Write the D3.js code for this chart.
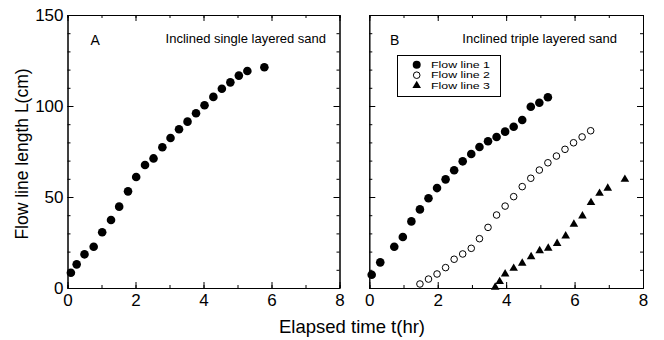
<!DOCTYPE html>
<html>
<head>
<meta charset="utf-8">
<script src="https://cdn.jsdelivr.net/npm/d3@7"></script>
<style>
  body { margin: 0; background: #fff; }
  svg { font-family: "Liberation Sans", Arial, sans-serif; }
</style>
</head>
<body>
<div class="chart"></div>
<script>
// panel A: inclined single layered sand
const timeA = [0.1, 0.27, 0.5, 0.77, 1.02, 1.28, 1.52, 1.78, 2.02, 2.28, 2.53, 2.79, 3.03, 3.28, 3.53, 3.78, 4.03, 4.29, 4.54, 4.79, 5.04, 5.29, 5.79];
const lenA = [8.4, 13, 18.5, 22.7, 30.6, 37.4, 44.7, 53.1, 61, 67.6, 71.2, 77.3, 82.4, 87.2, 91.4, 96, 100.4, 105, 109.5, 113, 116.7, 119.2, 121.3];

// panel B: inclined triple layered sand
const timeB1 = [0.07, 0.32, 0.73, 0.98, 1.23, 1.48, 1.73, 1.98, 2.23, 2.48, 2.73, 2.98, 3.22, 3.47, 3.72, 3.97, 4.22, 4.47, 4.72, 4.97, 5.22];
const lenB1 = [7.3, 14.1, 22.7, 28, 36.6, 43.2, 49.3, 54.9, 59.7, 64.7, 69.6, 73.6, 77.5, 80.6, 83, 85.9, 88.6, 92.3, 99.6, 101.8, 104.8];
const timeB2 = [1.48, 1.73, 1.98, 2.23, 2.48, 2.73, 2.98, 3.22, 3.47, 3.72, 3.97, 4.22, 4.47, 4.72, 4.97, 5.22, 5.47, 5.72, 5.97, 6.22, 6.47];
const lenB2 = [2.2, 4.9, 7.7, 11.2, 15.8, 18.7, 21.8, 27.1, 33.3, 40.1, 45, 50.2, 55.7, 60.3, 64.8, 68.8, 72.5, 76.2, 79.8, 83, 86.4];
const timeB3 = [3.68, 3.81, 3.97, 4.22, 4.47, 4.73, 4.98, 5.23, 5.49, 5.74, 5.98, 6.23, 6.48, 6.73, 6.97, 7.47];
const lenB3 = [0.4, 3.5, 7.7, 10.8, 13.6, 17.2, 20.5, 21.8, 24.5, 28.6, 35, 39.6, 46.9, 52, 54.8, 59.7];

const xTicks = [0, 2, 4, 6, 8];
const xMinor = [0, 1, 2, 3, 4, 5, 6, 7, 8];
const yTicks = [0, 50, 100, 150];
const yMinor = d3.range(0, 151, 10);
const seriesNames = ['Flow line 1', 'Flow line 2', 'Flow line 3'];

const width = 664, height = 340;
const plotTop = 15, plotBottom = 288;

const svg = d3.select('.chart').append('svg')
  .attr('width', width)
  .attr('height', height);

const y = d3.scaleLinear([0, 150], [plotBottom, plotTop]);

function drawPanel(x0, x1, showYLabels) {
  const x = d3.scaleLinear([0, 8], [x0, x1]);
  const g = svg.append('g');

  // minor ticks first, majors over them
  g.append('g').attr('transform', `translate(0,${plotBottom})`)
    .call(d3.axisBottom(x).tickValues(xMinor).tickSize(-3).tickFormat(''));
  g.append('g').attr('transform', `translate(0,${plotTop})`)
    .call(d3.axisTop(x).tickValues(xMinor).tickSize(-3).tickFormat(''));
  g.append('g').attr('transform', `translate(${x0},0)`)
    .call(d3.axisLeft(y).tickValues(yMinor).tickSize(-3).tickFormat(''));
  g.append('g').attr('transform', `translate(${x1},0)`)
    .call(d3.axisRight(y).tickValues(yMinor).tickSize(-3).tickFormat(''));

  g.append('g').attr('transform', `translate(0,${plotBottom})`)
    .call(d3.axisBottom(x).tickValues(xTicks).tickSizeInner(-6).tickSizeOuter(0).tickPadding(6));
  g.append('g').attr('transform', `translate(0,${plotTop})`)
    .call(d3.axisTop(x).tickValues(xTicks).tickSizeInner(-6).tickSizeOuter(0).tickFormat(''));
  g.append('g').attr('transform', `translate(${x0},0)`)
    .call(d3.axisLeft(y).tickValues(yTicks).tickSizeInner(-6).tickSizeOuter(0).tickPadding(4)
      .tickFormat(showYLabels ? d3.format('d') : ''));
  g.append('g').attr('transform', `translate(${x1},0)`)
    .call(d3.axisRight(y).tickValues(yTicks).tickSizeInner(-6).tickSizeOuter(0).tickFormat(''));

  g.selectAll('.domain, .tick line').attr('stroke', '#000').attr('stroke-width', 1);
  g.selectAll('.tick text').attr('font-size', 17).attr('fill', '#000')
    .attr('font-family', '"Liberation Sans", Arial, sans-serif');
  return x;
}

const xA = drawPanel(67.5, 339.5, true);
const xB = drawPanel(369.3, 643, false);

// panel A points
svg.append('g').selectAll('circle')
  .data(d3.zip(timeA, lenA))
  .join('circle')
  .attr('cx', d => xA(d[0]))
  .attr('cy', d => y(d[1]))
  .attr('r', 4.3)
  .attr('fill', '#000');

// panel B points
svg.append('g').selectAll('circle')
  .data(d3.zip(timeB1, lenB1))
  .join('circle')
  .attr('cx', d => xB(d[0]))
  .attr('cy', d => y(d[1]))
  .attr('r', 4.3)
  .attr('fill', '#000');

svg.append('g').selectAll('circle')
  .data(d3.zip(timeB2, lenB2))
  .join('circle')
  .attr('cx', d => xB(d[0]))
  .attr('cy', d => y(d[1]))
  .attr('r', 3.3)
  .attr('fill', '#fff')
  .attr('stroke', '#000')
  .attr('stroke-width', 1);

const tri = d3.symbol(d3.symbolTriangle, 32);
svg.append('g').selectAll('path')
  .data(d3.zip(timeB3, lenB3))
  .join('path')
  .attr('transform', d => `translate(${xB(d[0])},${y(d[1])})`)
  .attr('d', tri)
  .attr('fill', '#000');

// panel labels
svg.append('text').attr('x', 90.5).attr('y', 45).attr('font-size', 14).text('A');
svg.append('text').attr('x', 390).attr('y', 45).attr('font-size', 14).text('B');
svg.append('text').attr('x', 326).attr('y', 43).attr('font-size', 13)
  .attr('text-anchor', 'end').text('Inclined single layered sand');
svg.append('text').attr('x', 617).attr('y', 43).attr('font-size', 13)
  .attr('text-anchor', 'end').text('Inclined triple layered sand');

// legend
const legend = svg.append('g');
legend.append('rect')
  .attr('x', 397.5).attr('y', 55.5).attr('width', 103).attr('height', 41)
  .attr('fill', '#fff').attr('stroke', '#000').attr('stroke-width', 1);
const rows = [64.8, 75.2, 85.6];
seriesNames.forEach((name, i) => {
  const cy = rows[i];
  if (i === 0) {
    legend.append('circle').attr('cx', 416.7).attr('cy', cy).attr('r', 4).attr('fill', '#000');
  } else if (i === 1) {
    legend.append('circle').attr('cx', 416.7).attr('cy', cy).attr('r', 3.3)
      .attr('fill', '#fff').attr('stroke', '#000');
  } else {
    legend.append('path').attr('transform', `translate(416.7,${cy})`).attr('d', tri).attr('fill', '#000');
  }
  legend.append('text').attr('x', 431).attr('y', cy).attr('dy', '0.36em')
    .attr('font-size', 9)
    .attr('textLength', 59).attr('lengthAdjust', 'spacingAndGlyphs')
    .text(name);
});

// axis titles
svg.append('text')
  .attr('x', 352).attr('y', 333)
  .attr('text-anchor', 'middle')
  .attr('font-size', 18.5)
  .text('Elapsed time t(hr)');
svg.append('text')
  .attr('transform', 'translate(28,154) rotate(-90)')
  .attr('text-anchor', 'middle')
  .attr('font-size', 17.5)
  .text('Flow line length L(cm)');
</script>
</body>
</html>
